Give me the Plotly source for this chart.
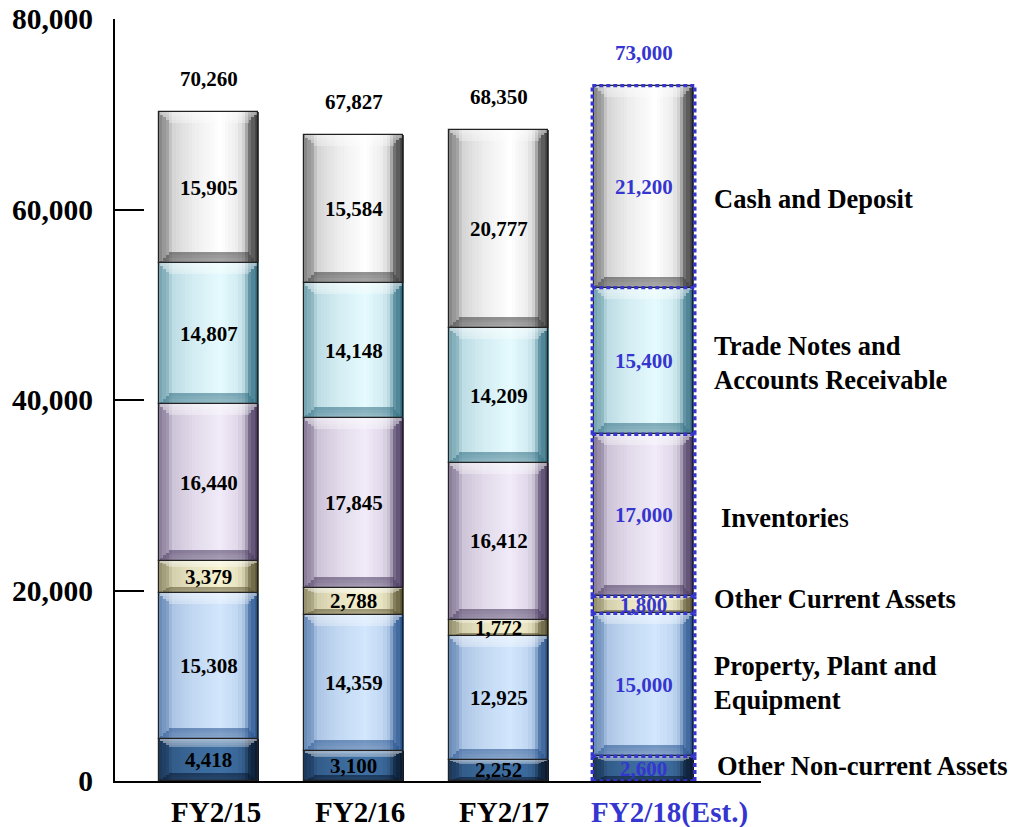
import numpy as np
import plotly.graph_objects as go

# Balance-sheet assets by fiscal year (millions of yen), stacked bottom to top
categories = ["FY2/15", "FY2/16", "FY2/17", "FY2/18(Est.)"]
series_names = [
    "Other Non-current Assets",
    "Property, Plant and Equipment",
    "Other Current Assets",
    "Inventories",
    "Trade Notes and Accounts Receivable",
    "Cash and Deposit",
]
other_noncurrent = [4418, 3100, 2252, 2600]
ppe = [15308, 14359, 12925, 15000]
other_current = [3379, 2788, 1772, 1800]
inventories = [16440, 17845, 16412, 17000]
receivables = [14807, 14148, 14209, 15400]
cash = [15905, 15584, 20777, 21200]
totals = [70260, 67827, 68350, 73000]
y_ticks = [0, 20000, 40000, 60000, 80000]

values = [other_noncurrent, ppe, other_current, inventories, receivables, cash]

# Bevel palette per series: (edge colour, highlight colour)
palette = [
    ("#06142a", "#3f70a4"),
    ("#24508c", "#d2e6fd"),
    ("#57502e", "#f6f2cf"),
    ("#45365c", "#f1eaf8"),
    ("#2f6c80", "#e4fafe"),
    ("#383838", "#ffffff"),
]

FONT = "Liberation Serif"
BLUE = "#3535cf"
BAR_W = 0.683
N_STRIPS = 30
PX_PER_UNIT = 762 / 80000  # plot height over y range
BEVEL_PX = 11
BEVEL_X = 0.11 * BAR_W
N_ROWS = 4


def hex_rgb(h):
    h = h.lstrip("#")
    return np.array([int(h[i:i + 2], 16) for i in (0, 2, 4)], dtype=float)


def mix(c0, c1, t):
    c = hex_rgb(c0) * (1 - t) + hex_rgb(c1) * t
    return "rgb(%d,%d,%d)" % tuple(np.clip(c, 0, 255).round())


def rgba(h, a):
    r, g, b = hex_rgb(h)
    return "rgba(%d,%d,%d,%.2f)" % (r, g, b, a)


# brightness profile across the bar width (0 = left edge, 1 = right edge)
prof_u = [0.0, 0.05, 0.105, 0.125, 0.35, 0.62, 0.8, 0.875, 0.895, 0.95, 1.0]
prof_p = [0.36, 0.48, 0.58, 0.78, 0.91, 1.0, 0.9, 0.7, 0.36, 0.18, 0.03]

x_idx = np.arange(len(categories))
fig = go.Figure()

bases = np.cumsum([[0] * len(categories)] + values[:-1], axis=0)

for s, (vals, (dark, light)) in enumerate(zip(values, palette)):
    vals = np.array(vals, dtype=float)
    base = bases[s].astype(float)
    sw = BAR_W / N_STRIPS
    # vertical strips giving the horizontal shading
    for k in range(N_STRIPS):
        u = (k + 0.5) / N_STRIPS
        p = np.interp(u, prof_u, prof_p)
        fig.add_trace(go.Bar(
            x=x_idx, y=vals, base=base,
            width=sw * 1.2, offset=-BAR_W / 2 + k * sw,
            marker=dict(color=mix(dark, light, p), line=dict(width=0)),
            hoverinfo="skip", showlegend=False,
        ))
    # top highlight and bottom shadow bands, stepped to mitre the corners
    bevel = np.minimum(BEVEL_PX / PX_PER_UNIT, 0.2 * vals)
    row_h = bevel / N_ROWS
    for j in range(N_ROWS):
        w = BAR_W - 2 * BEVEL_X * (j + 0.5) / N_ROWS
        fig.add_trace(go.Bar(
            x=x_idx, y=row_h, base=base + vals - (j + 1) * row_h,
            width=w, offset=-w / 2,
            marker=dict(color=rgba("#ffffff", 0.5 - 0.06 * j), line=dict(width=0)),
            hoverinfo="skip", showlegend=False,
        ))
        fig.add_trace(go.Bar(
            x=x_idx, y=row_h, base=base + j * row_h,
            width=w, offset=-w / 2,
            marker=dict(color=rgba(dark, 0.42 + 0.04 * j), line=dict(width=0)),
            hoverinfo="skip", showlegend=False,
        ))
    # segment outline
    fig.add_trace(go.Bar(
        x=x_idx, y=vals, base=base, width=BAR_W, offset=-BAR_W / 2,
        marker=dict(color="rgba(0,0,0,0)", line=dict(width=1.2, color="#222222")),
        name=series_names[s], hoverinfo="x+y+name", showlegend=False,
    ))

# dotted outlines around the estimated year's segments
est = len(categories) - 1
xl, xr = est - BAR_W / 2 - 0.012, est + BAR_W / 2 + 0.012
dot = dict(color=BLUE, width=3.4, dash="4px,3px")
est_bounds = [0] + list(np.cumsum([v[est] for v in values]))
for b in est_bounds:
    # one horizontal dotted edge per segment boundary
    fig.add_trace(go.Scatter(
        x=[xl, xr], y=[b, b], mode="lines", line=dot,
        hoverinfo="skip", showlegend=False,
    ))
for lo, hi in zip(est_bounds[:-1], est_bounds[1:]):
    for xe in (xl, xr):
        fig.add_trace(go.Scatter(
            x=[xe, xe], y=[lo, hi], mode="lines", line=dot,
            hoverinfo="skip", showlegend=False,
        ))

annotations = []
for s, vals in enumerate(values):
    for i, v in enumerate(vals):
        annotations.append(dict(
            x=i, y=bases[s][i] + v / 2, text=f"{v:,}", showarrow=False,
            font=dict(family=FONT, size=21, weight="bold",
                      color=BLUE if i == est else "black"),
        ))
for i, t in enumerate(totals):
    annotations.append(dict(
        x=i, y=t, text=f"{t:,}", showarrow=False, yshift=33,
        font=dict(family=FONT, size=21, weight="bold",
                  color=BLUE if i == est else "black"),
    ))

# category labels under the axis
cat_x = [0.052, 1.048, 2.041, 3.18]
for i, (c, cx) in enumerate(zip(categories, cat_x)):
    annotations.append(dict(
        x=cx, y=0, text=c, showarrow=False, yanchor="middle", yshift=-31,
        font=dict(family=FONT, size=29, weight="bold",
                  color=BLUE if i == est else "black"),
    ))

# series labels to the right of the estimate bar
side_labels = [
    ("<b>Cash and Deposit</b>", 3.472, 61100),
    ("<b>Trade Notes and<br>Accounts Receivable</b>", 3.472, 43935),
    ("<b>Inventorie</b>s", 3.52, 27610),
    ("<b>Other Current Assets</b>", 3.472, 19110),
    ("<b>Property, Plant and<br>Equipment</b>", 3.472, 10340),
    ("<b>Other Non-current Assets</b>", 3.495, 1575),
]
for text, x, y in side_labels:
    annotations.append(dict(
        x=x, y=y, text=text, showarrow=False, xanchor="left", align="left",
        font=dict(family=FONT, size=26.5, color="black"),
    ))

fig.update_layout(
    width=1012, height=827,
    margin=dict(l=115, r=251, t=19, b=46),
    paper_bgcolor="white", plot_bgcolor="white",
    barmode="overlay", bargap=0,
    showlegend=False,
    annotations=annotations,
    xaxis=dict(
        range=[-0.645, 3.81], showticklabels=False,
        showline=True, linecolor="black", linewidth=2, ticks="",
        showgrid=False, zeroline=False, automargin=False,
    ),
    yaxis=dict(
        range=[0, 80000], tickvals=y_ticks, tickformat=",",
        showline=True, linecolor="black", linewidth=2,
        ticks="inside", ticklen=29, tickwidth=2, tickcolor="black",
        showgrid=False, zeroline=False, ticklabelstandoff=14, automargin=False,
        tickfont=dict(family=FONT, size=29.5, weight="bold", color="black"),
    ),
)

fig.write_html("out.html")
